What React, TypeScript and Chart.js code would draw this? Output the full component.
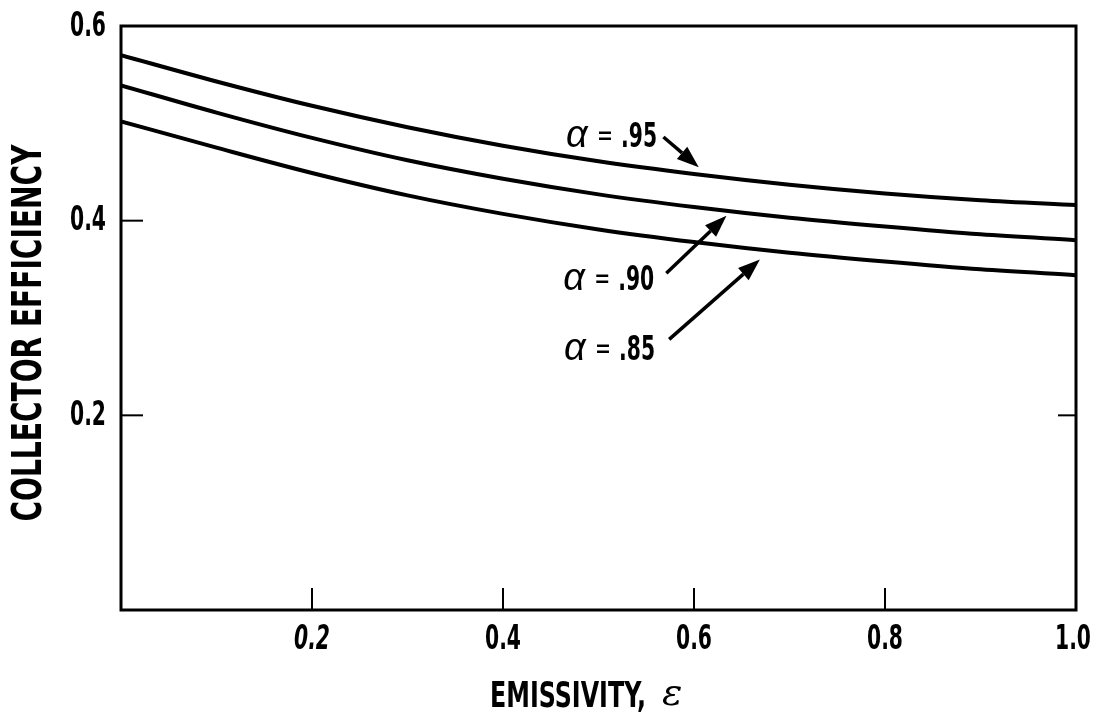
import React, { useEffect, useRef } from "react";
import { Chart, registerables } from "chart.js";

Chart.register(...registerables);

// ---- data ----
const emissivity = [0, 0.1, 0.2, 0.3, 0.4, 0.5, 0.6, 0.7, 0.8, 0.9, 1.0];
const effAlpha95 = [0.570, 0.543, 0.518, 0.496, 0.477, 0.461, 0.448, 0.437, 0.428, 0.421, 0.416];
const effAlpha90 = [0.539, 0.511, 0.485, 0.462, 0.443, 0.427, 0.414, 0.403, 0.394, 0.386, 0.380];
const effAlpha85 = [0.502, 0.475, 0.449, 0.426, 0.407, 0.391, 0.378, 0.367, 0.358, 0.350, 0.344];
const seriesNames = ["α = .95", "α = .90", "α = .85"];
const xTickValues = [0.2, 0.4, 0.6, 0.8, 1.0];
const xTickLabels = ["0.2", "0.4", "0.6", "0.8", "1.0"];
const yTickValues = [0.2, 0.4, 0.6];
const yTickLabels = ["0.2", "0.4", "0.6"];
const xTitle = "EMISSIVITY,";
const xTitleSymbol = "ε";
const yTitle = "COLLECTOR EFFICIENCY";

// annotation placement (data coordinates)
const labelTextX = [0.466, 0.463, 0.464];
const labelTextY = [0.488, 0.341, 0.269];
const arrowFrom = [
  [0.568, 0.486],
  [0.571, 0.346],
  [0.574, 0.278],
];
const arrowTo = [
  [0.605, 0.455],
  [0.634, 0.405],
  [0.669, 0.360],
];

const NARROW = "'Liberation Sans Narrow', 'DejaVu Sans Condensed', 'Liberation Sans', sans-serif";

function drawArrow(ctx: CanvasRenderingContext2D, x1: number, y1: number, x2: number, y2: number) {
  const ang = Math.atan2(y2 - y1, x2 - x1);
  const headLen = 22;
  const headW = 8;
  const bx = x2 - headLen * Math.cos(ang);
  const by = y2 - headLen * Math.sin(ang);
  ctx.beginPath();
  ctx.moveTo(x1, y1);
  ctx.lineTo(bx, by);
  ctx.lineWidth = 3.5;
  ctx.stroke();
  ctx.beginPath();
  ctx.moveTo(x2, y2);
  ctx.lineTo(bx + headW * Math.sin(ang), by - headW * Math.cos(ang));
  ctx.lineTo(bx - headW * Math.sin(ang), by + headW * Math.cos(ang));
  ctx.closePath();
  ctx.fill();
}

// draw text squeezed horizontally to a given width
function fitText(ctx: CanvasRenderingContext2D, text: string, x: number, y: number, width: number) {
  const w = ctx.measureText(text).width;
  const sx = Math.min(1, width / w);
  ctx.save();
  ctx.translate(x, y);
  ctx.scale(sx, 1);
  ctx.fillText(text, 0, 0);
  ctx.restore();
}

const decorPlugin = {
  id: "decor",
  afterDatasetsDraw(chart: any) {
    const { ctx, chartArea } = chart;
    const xs = chart.scales.x;
    const ys = chart.scales.y;
    ctx.save();
    ctx.strokeStyle = "#000";
    ctx.fillStyle = "#000";
    // frame
    ctx.lineWidth = 3;
    ctx.strokeRect(chartArea.left, chartArea.top, chartArea.right - chartArea.left, chartArea.bottom - chartArea.top);
    // inward ticks
    ctx.lineWidth = 2;
    const tl = 22;
    xTickValues.forEach((v) => {
      if (v >= 1) return;
      const px = xs.getPixelForValue(v);
      ctx.beginPath();
      ctx.moveTo(px, chartArea.bottom);
      ctx.lineTo(px, chartArea.bottom - tl);
      ctx.stroke();
    });
    yTickValues.forEach((v) => {
      if (v >= 0.6) return;
      const py = ys.getPixelForValue(v);
      ctx.beginPath();
      ctx.moveTo(chartArea.left, py);
      ctx.lineTo(chartArea.left + tl, py);
      ctx.stroke();
    });
    {
      const py = ys.getPixelForValue(yTickValues[0]);
      ctx.beginPath();
      ctx.moveTo(chartArea.right, py);
      ctx.lineTo(chartArea.right - 18, py);
      ctx.stroke();
    }

    // tick labels (condensed)
    ctx.textBaseline = "middle";
    ctx.textAlign = "center";
    xTickValues.forEach((v, i) => {
      const px = xs.getPixelForValue(v);
      ctx.font = `${i === 0 ? "italic " : ""}bold 33px ${NARROW}`;
      fitText(ctx, xTickLabels[i], v >= 1 ? px - 3 : px, 640, 36);
    });
    ctx.textAlign = "right";
    yTickValues.forEach((v, i) => {
      const py = ys.getPixelForValue(v);
      ctx.font = `bold 33px ${NARROW}`;
      fitText(ctx, yTickLabels[i], 106, py + 1, 36);
    });

    // annotations
    seriesNames.forEach((name, i) => {
      const tx = xs.getPixelForValue(labelTextX[i]);
      const ty = ys.getPixelForValue(labelTextY[i]);
      const parts = name.split(" ");
      ctx.textBaseline = "alphabetic";
      ctx.textAlign = "left";
      const base = ty + 12;
      ctx.font = "italic 38px 'Liberation Sans', sans-serif";
      fitText(ctx, parts[0], tx, base, 27);
      ctx.font = `30px ${NARROW}`;
      fitText(ctx, parts[1], tx + 31, base - 2, 16);
      ctx.font = `bold 34px ${NARROW}`;
      fitText(ctx, parts[2], tx + 55, base, 36);
      const [fx, fy] = arrowFrom[i];
      const [ex, ey] = arrowTo[i];
      drawArrow(ctx, xs.getPixelForValue(fx), ys.getPixelForValue(fy), xs.getPixelForValue(ex), ys.getPixelForValue(ey));
    });

    // axis titles
    ctx.textBaseline = "middle";
    ctx.textAlign = "left";
    ctx.font = `bold 35px ${NARROW}`;
    fitText(ctx, xTitle, 490, 698, 156);
    ctx.font = "italic 38px 'DejaVu Serif', serif";
    ctx.fillText(xTitleSymbol, 662, 695);

    ctx.font = `bold 40px ${NARROW}`;
    const w = ctx.measureText(yTitle).width;
    const sx = Math.min(1, 377 / w);
    ctx.translate(31, 333);
    ctx.rotate(-Math.PI / 2);
    ctx.scale(sx, 1);
    ctx.textAlign = "center";
    ctx.fillText(yTitle, 0, 0);
    ctx.restore();
  },
};

export default function App() {
  const ref = useRef<HTMLCanvasElement | null>(null);
  useEffect(() => {
    if (!ref.current) return;
    const line = (label: string, data: number[]) => ({
      label,
      data: emissivity.map((x, i) => ({ x, y: data[i] })),
      borderColor: "#000",
      borderWidth: 4,
      pointRadius: 0,
      fill: false,
      cubicInterpolationMode: "monotone" as const,
    });
    const chart = new Chart(ref.current, {
      type: "line",
      data: {
        datasets: [
          line(seriesNames[0], effAlpha95),
          line(seriesNames[1], effAlpha90),
          line(seriesNames[2], effAlpha85),
        ],
      },
      plugins: [decorPlugin],
      options: {
        animation: false,
        responsive: false,
        devicePixelRatio: 1,
        layout: { padding: { top: 26, right: 20, bottom: 0, left: 0 } },
        plugins: { legend: { display: false }, tooltip: { enabled: false } },
        scales: {
          x: {
            type: "linear",
            min: 0,
            max: 1,
            afterBuildTicks: (s: any) => {
              s.ticks = [0, ...xTickValues].map((v) => ({ value: v }));
            },
            afterFit: (s: any) => {
              s.height = 110;
              s.paddingLeft = 0;
              s.paddingRight = 0;
            },
            grid: { display: false },
            border: { display: false },
            ticks: { display: false },
          },
          y: {
            type: "linear",
            min: 0,
            max: 0.6,
            afterBuildTicks: (s: any) => {
              s.ticks = [0, ...yTickValues].map((v) => ({ value: v }));
            },
            afterFit: (s: any) => {
              s.width = 121;
              s.paddingTop = 0;
              s.paddingBottom = 0;
            },
            grid: { display: false },
            border: { display: false },
            ticks: { display: false },
          },
        },
      },
    });
    return () => chart.destroy();
  }, []);
  return (
    <div style={{ position: "absolute", left: 0, top: 0, width: 1096, height: 720, background: "#fff" }}>
      <canvas ref={ref} width={1096} height={720} style={{ display: "block" }} />
    </div>
  );
}
